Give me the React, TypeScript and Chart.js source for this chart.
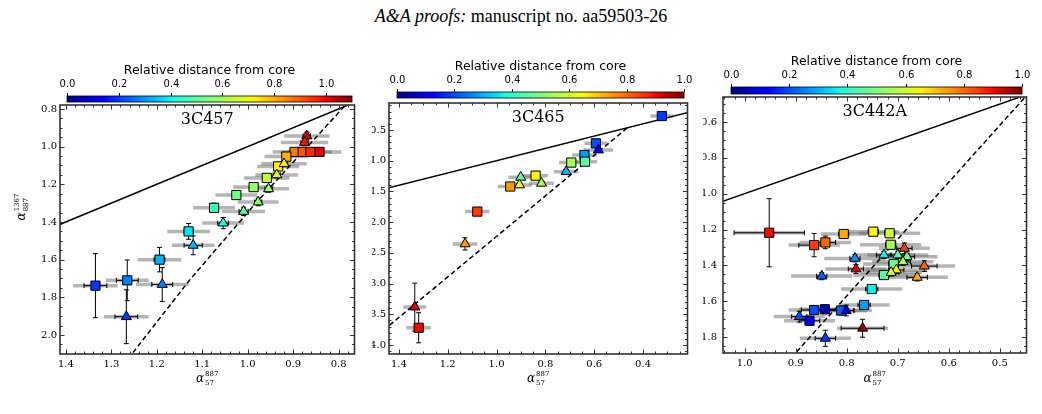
import { useEffect, useRef } from "react";
import { Chart, registerables } from "chart.js";

Chart.register(...registerables);

// Row columns: alpha(57-887), alpha(887-1367), relative distance, x error, x error (total, grey), y error
type Row = [number, number, number, number, number, number];
type Pt = [number, number];

// ---------------- 3C457 ----------------
const SQ_3C457: Row[] = [
  [0.897, 1.028, 0.86, 0.008, 0.048, 0.012],
  [0.879, 1.028, 0.9, 0.008, 0.048, 0.012],
  [0.862, 1.028, 0.95, 0.008, 0.048, 0.012],
  [0.842, 1.028, 1.0, 0.008, 0.048, 0.012],
  [0.915, 1.053, 0.79, 0.008, 0.048, 0.012],
  [0.933, 1.105, 0.72, 0.008, 0.046, 0.014],
  [0.958, 1.166, 0.64, 0.008, 0.05, 0.015],
  [0.987, 1.215, 0.58, 0.008, 0.045, 0.016],
  [1.025, 1.257, 0.53, 0.008, 0.046, 0.018],
  [1.074, 1.325, 0.46, 0.008, 0.046, 0.025],
  [1.13, 1.45, 0.385, 0.01, 0.047, 0.042],
  [1.194, 1.6, 0.33, 0.012, 0.048, 0.065],
  [1.265, 1.71, 0.275, 0.024, 0.047, 0.108],
  [1.335, 1.738, 0.2, 0.025, 0.049, 0.17],
];
const TRI_3C457: Row[] = [
  [0.87, 0.943, 1.02, 0.008, 0.05, 0.02],
  [0.875, 0.978, 0.98, 0.008, 0.052, 0.018],
  [0.92, 1.091, 0.73, 0.008, 0.05, 0.015],
  [0.936, 1.15, 0.67, 0.008, 0.047, 0.016],
  [0.954, 1.224, 0.6, 0.008, 0.045, 0.018],
  [0.977, 1.294, 0.57, 0.008, 0.045, 0.02],
  [1.009, 1.344, 0.5, 0.01, 0.047, 0.022],
  [1.054, 1.406, 0.41, 0.012, 0.046, 0.03],
  [1.12, 1.524, 0.33, 0.02, 0.047, 0.05],
  [1.188, 1.732, 0.275, 0.023, 0.058, 0.09],
  [1.267, 1.903, 0.2, 0.025, 0.049, 0.143],
];
const JP_3C457: Pt[] = [
  [0.787, 0.785],
  [0.98, 1.294],
  [1.127, 1.706],
  [1.254, 2.098],
  [1.271, 2.15],
];
const XT_3C457 = [1.4, 1.3, 1.2, 1.1, 1.0, 0.9, 0.8];
const YT_3C457 = [0.8, 1.0, 1.2, 1.4, 1.6, 1.8, 2.0];

// ---------------- 3C465 ----------------
const SQ_3C465: Row[] = [
  [0.323, 0.272, 0.18, 0.01, 0.047, 0.03],
  [0.593, 0.717, 0.2, 0.01, 0.047, 0.03],
  [0.64, 0.907, 0.28, 0.01, 0.05, 0.03],
  [0.638, 1.015, 0.45, 0.01, 0.05, 0.03],
  [0.694, 1.03, 0.55, 0.01, 0.05, 0.03],
  [0.84, 1.243, 0.65, 0.01, 0.05, 0.03],
  [0.944, 1.42, 0.75, 0.01, 0.05, 0.03],
  [1.079, 1.828, 0.85, 0.01, 0.05, 0.04],
  [1.319, 3.72, 0.9, 0.01, 0.05, 0.245],
];
const TRI_3C465: Row[] = [
  [0.583, 0.825, 0.12, 0.01, 0.06, 0.03],
  [0.715, 1.178, 0.3, 0.01, 0.05, 0.03],
  [0.901, 1.27, 0.47, 0.01, 0.05, 0.03],
  [0.816, 1.367, 0.55, 0.01, 0.05, 0.03],
  [0.906, 1.394, 0.63, 0.01, 0.05, 0.03],
  [1.129, 2.354, 0.75, 0.01, 0.05, 0.1],
  [1.335, 3.383, 0.92, 0.01, 0.047, 0.39],
];
const JP_3C465: Pt[] = [
  [0.465, 0.467],
  [1.46, 3.75],
];
const XT_3C465 = [1.4, 1.2, 1.0, 0.8, 0.6, 0.4];
const YT_3C465 = [0.5, 1.0, 1.5, 2.0, 2.5, 3.0, 3.5, 4.0];

// ---------------- 3C442A ----------------
const SQ_3C442A: Row[] = [
  [0.952, 1.218, 0.9, 0.069, 0.069, 0.19],
  [0.864, 1.287, 0.85, 0.03, 0.05, 0.065],
  [0.842, 1.272, 0.8, 0.02, 0.05, 0.035],
  [0.806, 1.225, 0.73, 0.01, 0.045, 0.02],
  [0.748, 1.212, 0.65, 0.01, 0.05, 0.02],
  [0.716, 1.221, 0.6, 0.01, 0.06, 0.02],
  [0.714, 1.285, 0.55, 0.01, 0.06, 0.02],
  [0.708, 1.392, 0.48, 0.01, 0.06, 0.02],
  [0.727, 1.454, 0.45, 0.01, 0.06, 0.02],
  [0.751, 1.532, 0.36, 0.012, 0.06, 0.02],
  [0.766, 1.621, 0.28, 0.012, 0.05, 0.02],
  [0.864, 1.649, 0.2, 0.025, 0.05, 0.025],
  [0.843, 1.645, 0.06, 0.025, 0.05, 0.025],
  [0.811, 1.652, 0.22, 0.025, 0.05, 0.025],
  [0.873, 1.709, 0.09, 0.02, 0.05, 0.025],
];
const TRI_3C442A: Row[] = [
  [0.687, 1.305, 0.85, 0.015, 0.05, 0.03],
  [0.727, 1.342, 0.36, 0.015, 0.06, 0.02],
  [0.7, 1.342, 0.44, 0.015, 0.06, 0.02],
  [0.682, 1.352, 0.5, 0.015, 0.06, 0.02],
  [0.784, 1.361, 0.27, 0.01, 0.06, 0.02],
  [0.69, 1.38, 0.55, 0.015, 0.06, 0.02],
  [0.648, 1.404, 0.8, 0.025, 0.06, 0.03],
  [0.782, 1.42, 0.92, 0.015, 0.06, 0.025],
  [0.703, 1.426, 0.65, 0.015, 0.06, 0.02],
  [0.713, 1.44, 0.62, 0.015, 0.06, 0.02],
  [0.849, 1.46, 0.22, 0.01, 0.06, 0.02],
  [0.662, 1.467, 0.73, 0.02, 0.06, 0.02],
  [0.801, 1.652, 0.1, 0.015, 0.05, 0.03],
  [0.893, 1.686, 0.2, 0.015, 0.05, 0.03],
  [0.769, 1.751, 0.98, 0.042, 0.05, 0.05],
  [0.842, 1.807, 0.18, 0.02, 0.05, 0.045],
];
const JP_3C442A: Pt[] = [
  [0.452, 0.466],
  [0.91, 1.92],
];
const XT_3C442A = [1.0, 0.9, 0.8, 0.7, 0.6, 0.5];
const YT_3C442A = [0.6, 0.8, 1.0, 1.2, 1.4, 1.6, 1.8];

// alpha_high = alpha_low reference line
const EQUALITY: Pt[] = [
  [0, 0],
  [5, 5],
];
const CBAR_TICKS = [0.0, 0.2, 0.4, 0.6, 0.8, 1.0];

// ---------------- colour map (jet) ----------------
const JET_R: Pt[] = [[0, 0], [0.35, 0], [0.66, 1], [0.89, 1], [1, 0.5]];
const JET_G: Pt[] = [[0, 0], [0.125, 0], [0.375, 1], [0.64, 1], [0.91, 0], [1, 0]];
const JET_B: Pt[] = [[0, 0.5], [0.11, 1], [0.34, 1], [0.65, 0], [1, 0]];

function interp(pts: Pt[], t: number) {
  for (let i = 1; i < pts.length; i++) {
    if (t <= pts[i][0]) {
      const [x0, y0] = pts[i - 1];
      const [x1, y1] = pts[i];
      return y0 + ((t - x0) / (x1 - x0)) * (y1 - y0);
    }
  }
  return pts[pts.length - 1][1];
}
function jet(t: number) {
  const c = Math.max(0, Math.min(1, t));
  const r = Math.round(255 * interp(JET_R, c));
  const g = Math.round(255 * interp(JET_G, c));
  const b = Math.round(255 * interp(JET_B, c));
  return `rgb(${r},${g},${b})`;
}

// ---------------- panel definitions ----------------
interface PanelDef {
  name: string;
  sq: Row[];
  tri: Row[];
  jp: Pt[];
  xRange: Pt;
  yRange: Pt;
  xTicks: number[];
  yTicks: number[];
  xMinor: number;
  yMinor: number;
  cbarMax: number;
}
interface Layout {
  box: { left: number; top: number; width: number; height: number };
  area: { left: number; top: number; right: number; bottom: number };
  cbar: { x0: number; x1: number; y0: number; y1: number; labelY: number; titleY: number };
  tickPad: number;
  yLabel: boolean;
}

const PANELS: PanelDef[] = [
  {
    name: "3C457",
    sq: SQ_3C457,
    tri: TRI_3C457,
    jp: JP_3C457,
    xRange: [0.765, 1.413],
    yRange: [0.779, 2.101],
    xTicks: XT_3C457,
    yTicks: YT_3C457,
    xMinor: 0.02,
    yMinor: 0.05,
    cbarMax: 1.1,
  },
  {
    name: "3C465",
    sq: SQ_3C465,
    tri: TRI_3C465,
    jp: JP_3C465,
    xRange: [0.218, 1.4405],
    yRange: [0.06, 4.147],
    xTicks: XT_3C465,
    yTicks: YT_3C465,
    xMinor: 0.05,
    yMinor: 0.1,
    cbarMax: 1.0,
  },
  {
    name: "3C442A",
    sq: SQ_3C442A,
    tri: TRI_3C442A,
    jp: JP_3C442A,
    xRange: [0.4477, 1.0426],
    yRange: [0.4605, 1.889],
    xTicks: XT_3C442A,
    yTicks: YT_3C442A,
    xMinor: 0.02,
    yMinor: 0.05,
    cbarMax: 1.0,
  },
];

const LAYOUTS: Layout[] = [
  {
    box: { left: 0, top: 40, width: 362, height: 374 },
    area: { left: 60, top: 105, right: 358, bottom: 354 },
    cbar: { x0: 67, x1: 352, y0: 96, y1: 102, labelY: 84, titleY: 71 },
    tickPad: 3,
    yLabel: true,
  },
  {
    box: { left: 372, top: 40, width: 323, height: 374 },
    area: { left: 389, top: 103, right: 691, bottom: 354 },
    cbar: { x0: 397, x1: 684, y0: 92, y1: 98, labelY: 80, titleY: 67 },
    tickPad: 3,
    yLabel: false,
  },
  {
    box: { left: 703, top: 40, width: 331, height: 374 },
    area: { left: 723, top: 97, right: 1030, bottom: 353 },
    cbar: { x0: 731, x1: 1022, y0: 87, y1: 94, labelY: 75, titleY: 62 },
    tickPad: 6,
    yLabel: false,
  },
];

function minorValues(min: number, max: number, step: number, majors: number[]) {
  const out: number[] = [];
  const start = Math.ceil(min / step - 1e-9);
  const end = Math.floor(max / step + 1e-9);
  for (let k = start; k <= end; k++) {
    const v = k * step;
    if (!majors.some((m) => Math.abs(m - v) < step / 10)) out.push(v);
  }
  return out;
}

// alpha with sub/superscripts, centred on (x, y); optionally rotated to read upwards
function drawAlpha(
  ctx: CanvasRenderingContext2D,
  x: number,
  y: number,
  sub: string,
  sup: string,
  rotate: boolean
) {
  ctx.save();
  ctx.translate(x, y);
  if (rotate) ctx.rotate(-Math.PI / 2);
  ctx.fillStyle = "#000";
  ctx.textAlign = "left";
  ctx.textBaseline = "alphabetic";
  const aFont = 'italic 12px "DejaVu Serif"';
  const sFont = '7px "DejaVu Serif"';
  ctx.font = aFont;
  const aw = ctx.measureText("\u03b1").width;
  ctx.font = sFont;
  const sw = Math.max(ctx.measureText(sub).width, ctx.measureText(sup).width);
  const x0 = -(aw + 1 + sw) / 2;
  ctx.font = aFont;
  ctx.fillText("\u03b1", x0, 3.5);
  ctx.font = sFont;
  ctx.fillText(sup, x0 + aw + 1, -2.5);
  ctx.fillText(sub, x0 + aw + 1, 7);
  ctx.restore();
}

function makeDecor(def: PanelDef, lay: Layout) {
  const ox = lay.box.left;
  const oy = lay.box.top;
  return {
    id: "decor",
    beforeDatasetsDraw(chart: any) {
      const ctx: CanvasRenderingContext2D = chart.ctx;
      const xs = chart.scales.x;
      const ys = chart.scales.y;
      const a = chart.chartArea;
      const rows = [...def.sq, ...def.tri];
      ctx.save();
      ctx.beginPath();
      ctx.rect(a.left, a.top, a.right - a.left, a.bottom - a.top);
      ctx.clip();
      // total (grey) horizontal uncertainties
      ctx.strokeStyle = "rgba(105,105,105,0.5)";
      ctx.lineWidth = 3.5;
      for (const r of rows) {
        const y = ys.getPixelForValue(r[1]);
        ctx.beginPath();
        ctx.moveTo(xs.getPixelForValue(r[0] - r[4]), y);
        ctx.lineTo(xs.getPixelForValue(r[0] + r[4]), y);
        ctx.stroke();
      }
      // statistical error bars with caps
      ctx.strokeStyle = "#000";
      ctx.lineWidth = 1;
      const c = 2.5;
      for (const r of rows) {
        const x = xs.getPixelForValue(r[0]);
        const y = ys.getPixelForValue(r[1]);
        const xl = xs.getPixelForValue(r[0] + r[3]);
        const xr = xs.getPixelForValue(r[0] - r[3]);
        const yt = ys.getPixelForValue(r[1] - r[5]);
        const yb = ys.getPixelForValue(r[1] + r[5]);
        ctx.beginPath();
        ctx.moveTo(xl, y);
        ctx.lineTo(xr, y);
        ctx.moveTo(xl, y - c);
        ctx.lineTo(xl, y + c);
        ctx.moveTo(xr, y - c);
        ctx.lineTo(xr, y + c);
        ctx.moveTo(x, yt);
        ctx.lineTo(x, yb);
        ctx.moveTo(x - c, yt);
        ctx.lineTo(x + c, yt);
        ctx.moveTo(x - c, yb);
        ctx.lineTo(x + c, yb);
        ctx.stroke();
      }
      ctx.restore();
    },
    afterDraw(chart: any) {
      const ctx: CanvasRenderingContext2D = chart.ctx;
      const xs = chart.scales.x;
      const ys = chart.scales.y;
      const a = chart.chartArea;
      ctx.save();

      // inward ticks on all four sides
      ctx.strokeStyle = "#333";
      ctx.lineWidth = 1;
      const tick = (vals: number[], len: number, horizontal: boolean) => {
        ctx.beginPath();
        for (const v of vals) {
          if (horizontal) {
            const p = Math.round(xs.getPixelForValue(v)) + 0.5;
            if (p < a.left || p > a.right) continue;
            ctx.moveTo(p, a.bottom);
            ctx.lineTo(p, a.bottom - len);
            ctx.moveTo(p, a.top);
            ctx.lineTo(p, a.top + len);
          } else {
            const p = Math.round(ys.getPixelForValue(v)) + 0.5;
            if (p < a.top || p > a.bottom) continue;
            ctx.moveTo(a.left, p);
            ctx.lineTo(a.left + len, p);
            ctx.moveTo(a.right, p);
            ctx.lineTo(a.right - len, p);
          }
        }
        ctx.stroke();
      };
      tick(def.xTicks, 4.5, true);
      tick(def.yTicks, 4.5, false);
      tick(minorValues(def.xRange[0], def.xRange[1], def.xMinor, def.xTicks), 2.5, true);
      tick(minorValues(def.yRange[0], def.yRange[1], def.yMinor, def.yTicks), 2.5, false);

      // frame
      ctx.strokeStyle = "#333";
      ctx.lineWidth = 1.6;
      ctx.strokeRect(a.left, a.top, a.right - a.left, a.bottom - a.top);

      // panel name
      ctx.fillStyle = "#000";
      ctx.font = '16px "DejaVu Serif"';
      ctx.textAlign = "center";
      ctx.textBaseline = "middle";
      ctx.fillText(def.name, (a.left + a.right) / 2, a.top + 15);

      // colour bar
      const cb = lay.cbar;
      const x0 = cb.x0 - ox;
      const x1 = cb.x1 - ox;
      const y0 = cb.y0 - oy;
      const y1 = cb.y1 - oy;
      const grad = ctx.createLinearGradient(x0, 0, x1, 0);
      for (let i = 0; i <= 64; i++) grad.addColorStop(i / 64, jet(i / 64));
      ctx.fillStyle = grad;
      ctx.fillRect(x0, y0, x1 - x0, y1 - y0);
      ctx.strokeStyle = "#000";
      ctx.lineWidth = 0.8;
      ctx.strokeRect(x0, y0, x1 - x0, y1 - y0);
      ctx.beginPath();
      ctx.lineWidth = 1;
      ctx.font = '10px "DejaVu Sans"';
      ctx.fillStyle = "#000";
      for (const v of CBAR_TICKS) {
        const px = Math.round(x0 + (v / def.cbarMax) * (x1 - x0)) + 0.5;
        ctx.moveTo(px, y0);
        ctx.lineTo(px, y0 - 3);
        ctx.fillText(v.toFixed(1), px, cb.labelY - oy);
      }
      ctx.stroke();
      ctx.font = '12.5px "DejaVu Sans"';
      ctx.fillText("Relative distance from core", (x0 + x1) / 2, cb.titleY - oy);

      // axis labels
      drawAlpha(ctx, (a.left + a.right) / 2, 378 - oy, "57", "887", false);
      if (lay.yLabel) drawAlpha(ctx, 21 - ox, 207 - oy, "887", "1367", true);

      ctx.restore();
    },
  };
}

function Panel({ def, lay }: { def: PanelDef; lay: Layout }) {
  const ref = useRef<HTMLCanvasElement>(null);
  useEffect(() => {
    const canvas = ref.current;
    if (!canvas) return;
    const { box, area } = lay;
    const colours = (rows: Row[]) => rows.map((r) => jet(r[2] / def.cbarMax));
    const chart = new Chart(canvas, {
      type: "scatter",
      data: {
        datasets: [
          {
            data: def.tri.map((r) => ({ x: r[0], y: r[1] })),
            pointStyle: "triangle",
            pointRadius: 5.8,
            backgroundColor: colours(def.tri),
            borderColor: "#000",
            borderWidth: 1,
            order: 0,
          },
          {
            data: def.sq.map((r) => ({ x: r[0], y: r[1] })),
            pointStyle: "rect",
            pointRadius: 6.5,
            backgroundColor: colours(def.sq),
            borderColor: "#000",
            borderWidth: 1,
            order: 1,
          },
          {
            data: EQUALITY.map(([x, y]) => ({ x, y })),
            showLine: true,
            pointRadius: 0,
            borderColor: "#000",
            borderWidth: 1.5,
            fill: false,
            order: 2,
          },
          {
            data: def.jp.map(([x, y]) => ({ x, y })),
            showLine: true,
            pointRadius: 0,
            borderColor: "#000",
            borderWidth: 1.5,
            borderDash: [5, 3],
            fill: false,
            order: 2,
          },
        ] as any,
      },
      options: {
        animation: false,
        responsive: false,
        devicePixelRatio: 1,
        events: [],
        layout: {
          padding: {
            left: 0,
            top: area.top - box.top,
            right: box.left + box.width - area.right,
            bottom: 0,
          },
        },
        plugins: { legend: { display: false }, tooltip: { enabled: false } },
        scales: {
          x: {
            type: "linear",
            reverse: true,
            min: def.xRange[0],
            max: def.xRange[1],
            grid: { display: false, drawTicks: false },
            border: { display: false },
            afterBuildTicks: (s: any) => {
              s.ticks = def.xTicks.map((v) => ({ value: v }));
            },
            afterFit: (s: any) => {
              s.height = box.top + box.height - area.bottom;
            },
            ticks: {
              autoSkip: false,
              maxRotation: 0,
              padding: 4,
              color: "#000",
              font: { family: '"DejaVu Serif"', size: 10 },
              callback: (v: any) => Number(v).toFixed(1),
            },
          },
          y: {
            type: "linear",
            reverse: true,
            min: def.yRange[0],
            max: def.yRange[1],
            grid: { display: false, drawTicks: false },
            border: { display: false },
            afterBuildTicks: (s: any) => {
              s.ticks = def.yTicks.map((v) => ({ value: v }));
            },
            afterFit: (s: any) => {
              s.width = area.left - box.left;
            },
            ticks: {
              autoSkip: false,
              padding: lay.tickPad,
              color: "#000",
              font: { family: '"DejaVu Serif"', size: 10 },
              callback: (v: any) => Number(v).toFixed(1),
            },
          },
        },
      } as any,
      plugins: [makeDecor(def, lay)],
    });
    return () => chart.destroy();
  }, [def, lay]);
  return (
    <canvas
      ref={ref}
      width={lay.box.width}
      height={lay.box.height}
      style={{
        position: "absolute",
        left: lay.box.left,
        top: lay.box.top,
        width: lay.box.width,
        height: lay.box.height,
      }}
    />
  );
}

export default function App() {
  return (
    <div
      style={{
        position: "fixed",
        left: 0,
        top: 0,
        width: 1042,
        height: 414,
        background: "#fff",
        overflow: "hidden",
      }}
    >
      <div
        style={{
          position: "absolute",
          top: 6,
          left: 0,
          width: 1042,
          textAlign: "center",
          fontFamily: '"Liberation Serif", "Times New Roman", serif',
          fontSize: 18,
          lineHeight: "20px",
          color: "#000",
        }}
      >
        <i>A&amp;A proofs:</i> manuscript no. aa59503-26
      </div>
      {PANELS.map((p, i) => (
        <Panel key={p.name} def={p} lay={LAYOUTS[i]} />
      ))}
    </div>
  );
}
